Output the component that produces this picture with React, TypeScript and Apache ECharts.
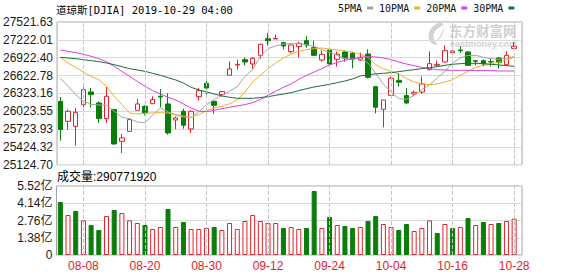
import React, { useEffect, useRef } from 'react';
import * as echarts from 'echarts';

const dates = [
  '08-05','08-06','08-07','08-08','08-09','08-12','08-13','08-14','08-15','08-16',
  '08-19','08-20','08-21','08-22','08-23','08-26','08-27','08-28','08-29','08-30',
  '09-03','09-04','09-05','09-06','09-09','09-10','09-11','09-12','09-13','09-16',
  '09-17','09-18','09-19','09-20','09-23','09-24','09-25','09-26','09-27','09-30',
  '10-01','10-02','10-03','10-04','10-07','10-08','10-09','10-10','10-11','10-14',
  '10-15','10-16','10-17','10-18','10-21','10-22','10-23','10-24','10-25','10-28',
];

const openP = [
  26189,25854,25770,26134,26346,26162,25899,26050,25518,25686,
  26038,26106,26150,26275,26145,25876,26022,25725,26268,26492,
  26190,26302,26626,26800,26889,26816,26962,27242,27236,27175,
  27024,27108,27208,27091,26884,27052,26895,27018,26996,26884,
  26984,26436,26055,26290,26542,26285,26313,26346,26721,26794,
  26850,27007,27052,27018,26872,26872,26856,26917,26805,27074,
];
const closeP = [
  25714,26022,26005,26385,26302,25899,26274,25473,25574,25882,
  26145,25994,26218,26262,25658,25910,25787,26022,26369,26413,
  26122,26352,26733,26811,26850,26912,27147,27208,27247,27119,
  27136,27163,27136,26962,26979,26816,26979,26912,26895,26928,
  26593,26089,26212,26576,26509,26162,26341,26481,26822,26811,
  27040,27035,27040,26794,26861,26816,26850,26844,26962,27113,
];
const lowP = [
  25529,25714,25445,26050,26089,25826,25826,25462,25322,25675,
  26033,25955,26150,26089,25630,25719,25730,25658,26201,26302,
  25982,26268,26626,26721,26794,26738,26906,27124,27236,27063,
  26996,26928,27091,26951,26856,26800,26772,26856,26744,26872,
  26576,25988,25753,26279,26441,26145,26274,26313,26710,26772,
  26839,26984,27001,26790,26794,26777,26772,26738,26789,27070,
];
const highP = [
  26262,26050,26078,26425,26413,26190,26430,26055,25641,25910,
  26229,26122,26274,26397,26324,25932,26066,26038,26413,26537,
  26195,26363,26861,26889,26928,26934,27158,27337,27309,27191,
  27140,27191,27287,27208,27040,27080,27024,27040,27024,27007,
  27063,26440,26215,26604,26665,26413,26369,26609,27029,26872,
  27130,27057,27113,27029,26875,26895,26906,26934,27029,27186,
];

const ma5 = [
  26576,26441,26302,26190,26139,26128,26122,26022,25921,25899,
  25843,25826,25955,26078,26010,25966,25943,25921,26010,26134,
  26218,26290,26358,26436,26609,26721,26945,27074,27119,27152,
  27158,27158,27141,27113,27057,27012,26962,26906,26895,26912,
  26833,26660,26481,26346,26234,26223,26290,26385,26469,26581,
  26693,26833,26917,26962,26962,26928,26906,26895,26917,26940,
];
const ma10 = [
  26928,26833,26760,26677,26609,26553,26441,26274,26134,25994,
  25977,25988,25994,25999,25994,25955,25927,25921,25966,26033,
  26078,26106,26150,26212,26346,26514,26626,26738,26833,26917,
  26984,27029,27057,27074,27085,27068,27052,27035,27012,26984,
  26928,26805,26738,26693,26649,26570,26514,26481,26469,26481,
  26514,26553,26626,26693,26760,26794,26816,26850,26884,26928,
];
const ma20 = [
  27052,27029,27007,26979,26945,26906,26856,26777,26693,26609,
  26525,26441,26369,26313,26257,26212,26145,26078,26022,26016,
  26038,26066,26089,26111,26134,26167,26218,26290,26358,26425,
  26481,26559,26626,26682,26738,26800,26844,26878,26906,26928,
  26940,26934,26917,26889,26850,26816,26788,26760,26738,26721,
  26716,26710,26710,26710,26705,26705,26705,26699,26699,26699,
];
const ma30 = [
  26928,26917,26906,26889,26872,26856,26833,26805,26772,26738,
  26716,26693,26660,26626,26587,26548,26497,26425,26380,26346,
  26313,26279,26257,26240,26240,26240,26251,26268,26290,26313,
  26335,26369,26402,26430,26453,26475,26503,26531,26565,26615,
  26637,26649,26660,26671,26688,26705,26721,26738,26755,26772,
  26794,26811,26822,26828,26828,26822,26811,26800,26788,26777,
];

// volume in 亿 (1e8 shares)
const volumes = [
  4.24,3.20,3.52,2.77,2.40,2.00,3.12,3.60,3.36,2.77,
  2.56,2.40,2.08,2.24,3.68,2.24,2.64,2.08,2.08,2.16,
  2.24,2.00,2.56,2.08,2.72,3.20,2.72,2.56,2.56,2.16,
  2.24,2.08,2.16,5.12,2.16,3.04,2.40,2.32,2.16,2.24,
  2.72,3.12,2.48,2.24,2.00,2.48,1.92,2.16,2.77,1.76,
  2.48,2.16,2.24,2.96,2.40,2.64,2.48,2.56,2.72,2.9077,
];
const lastVolume = 290771920;

const priceTicks = ['25124.70','25424.32','25723.93','26023.55','26323.16','26622.78','26922.40','27222.01','27521.63'];
const PRICE_MIN = 25124.70;
const PRICE_MAX = 27521.63;
const volTicks = ['0','1.38亿','2.76亿','4.14亿','5.52亿'];
const VOL_MAX = 5.52;
const xLabelDates = ['08-08','08-20','08-30','09-12','09-24','10-04','10-16','10-28'];

const RED = '#e0232b';
const GREEN = '#0a7d0a';
const SANS = '"Liberation Sans", Arial, "Noto Sans CJK SC", sans-serif';
const MONO = '"DejaVu Sans Mono", "Noto Sans CJK SC", monospace';

const LOGO_D = 'M13 0 C5 3 0 10 2 17 C3 21 7 23 11 23 C6 19 5 12 9 8 C11 6 14 4 17 3 Z M17 4 C16 10 13 15 8 20 C14 17 17 11 17 4 Z';

export default function App() {
  const ref = useRef<HTMLDivElement>(null);
  useEffect(() => {
    echarts.graphic.registerShape('logo', echarts.graphic.extendPath(LOGO_D, {}) as any);
    const chart = echarts.init(ref.current!, null, { renderer: 'svg' });

    const candleData = dates.map((_, i) => [openP[i], closeP[i], lowP[i], highP[i]]);
    const volData = volumes.map((v, i) => {
      const up = i === 0 ? closeP[0] >= openP[0] : closeP[i] >= closeP[i - 1];
      return {
        value: v,
        itemStyle: up
          ? { color: '#ffffff', borderColor: RED, borderWidth: 1 }
          : { color: GREEN, borderColor: GREEN, borderWidth: 1 },
      };
    });

    const dashed = {
      silent: true,
      symbol: ['none', 'none'],
      label: { show: false },
      lineStyle: { color: '#c4c4c4', type: 'dashed', width: 1 },
      data: xLabelDates.map((d) => ({ xAxis: d })),
    };

    const maLine = (name: string, data: number[], color: string) => ({
      name,
      type: 'line',
      xAxisIndex: 0,
      yAxisIndex: 0,
      data,
      symbol: 'none',
      lineStyle: { width: 1, color },
      itemStyle: { color },
      z: 3,
    });

    const option: any = {
      animation: false,
      backgroundColor: '#ffffff',
      legend: {
        data: ['5PMA', '10PMA', '20PMA', '30PMA'],
        left: 338,
        top: 3,
        padding: 0,
        align: 'right',
        icon: 'rect',
        itemWidth: 6,
        itemHeight: 3,
        itemGap: 6,
        selectedMode: false,
        textStyle: { fontFamily: MONO, fontSize: 10, color: '#111', padding: [0, 0, 0, 0] },
      },
      grid: [
        { left: 56.5, top: 22, width: 461.5, height: 142.7 },
        { left: 56.5, top: 186, width: 461.5, height: 69 },
        { left: 56.5, top: 22, width: 465.5, height: 142.7, show: true, borderColor: '#a3a3a3', borderWidth: 1, backgroundColor: 'transparent' },
        { left: 56.5, top: 186, width: 465.5, height: 69, show: true, borderColor: '#a3a3a3', borderWidth: 1, backgroundColor: 'transparent' },
      ],
      xAxis: [
        {
          type: 'category', gridIndex: 0, data: dates, boundaryGap: true,
          axisLine: { show: false }, axisTick: { show: false }, axisLabel: { show: false }, splitLine: { show: false },
        },
        {
          type: 'category', gridIndex: 1, data: dates, boundaryGap: true,
          axisLine: { show: false }, axisTick: { show: false }, splitLine: { show: false },
          axisLabel: {
            interval: (_idx: number, val: string) => xLabelDates.includes(val),
            color: RED, fontSize: 12, fontFamily: SANS, margin: 5,
          },
        },
        { type: 'value', gridIndex: 2, min: 0, max: 1, show: false },
        { type: 'value', gridIndex: 3, min: 0, max: 1, show: false },
      ],
      yAxis: [
        { type: 'value', gridIndex: 0, min: PRICE_MIN, max: PRICE_MAX, show: false, splitLine: { show: false } },
        { type: 'value', gridIndex: 1, min: 0, max: VOL_MAX, show: false, splitLine: { show: false } },
        {
          type: 'value', gridIndex: 2, min: 0, max: priceTicks.length - 1, interval: 1,
          axisLine: { show: false }, axisTick: { show: false },
          splitLine: { lineStyle: { color: '#dadada', width: 1 } },
          axisLabel: { formatter: (v: number) => priceTicks[v], color: '#1a1a1a', fontSize: 12, fontFamily: SANS, margin: 4 },
        },
        {
          type: 'value', gridIndex: 3, min: 0, max: volTicks.length - 1, interval: 1,
          axisLine: { show: false }, axisTick: { show: false },
          splitLine: { lineStyle: { color: '#dadada', width: 1 } },
          axisLabel: { formatter: (v: number) => volTicks[v], color: '#1a1a1a', fontSize: 12, fontFamily: SANS, margin: 4 },
        },
      ],
      graphic: [
        {
          type: 'text', x: 56, y: 10, z: 10,
          style: { text: '道琼斯[DJIA] 2019-10-29 04:00', fontFamily: MONO, fontSize: 10.5, fill: '#000', verticalAlign: 'middle' },
        },
        {
          type: 'text', x: 57, y: 177, z: 10,
          style: { text: '成交量:' + String(lastVolume), fontFamily: SANS, fontSize: 12, fill: '#000', verticalAlign: 'middle' },
        },
        {
          type: 'logo', x: 427, y: 22, scaleX: 1, scaleY: 1, z: 0,
          style: { fill: '#d2d2d2' },
        },
        {
          type: 'text', x: 449, y: 30, z: 0,
          style: { text: '东方财富网', fontFamily: '"Noto Sans CJK SC"', fontSize: 13.5, fontWeight: 'bold', fill: '#d0d0d0', verticalAlign: 'middle' },
        },
        {
          type: 'text', x: 450, y: 43.5, z: 0,
          style: { text: 'eastmoney.com', fontFamily: SANS, fontSize: 9, fontWeight: 'bold', fill: '#d0d0d0', verticalAlign: 'middle' },
        },
      ],
      series: [
        {
          name: 'K',
          type: 'candlestick',
          xAxisIndex: 0,
          yAxisIndex: 0,
          data: candleData,
          barWidth: 5,
          itemStyle: { color: '#ffffff', color0: GREEN, borderColor: RED, borderColor0: GREEN, borderWidth: 1 },
          markLine: dashed,
          z: 2,
        },
        maLine('5PMA', ma5, '#a3a3a3'),
        maLine('10PMA', ma10, '#f0ae2a'),
        maLine('20PMA', ma20, '#e03ce0'),
        maLine('30PMA', ma30, '#1e6b3c'),
        {
          name: 'VOL',
          type: 'bar',
          xAxisIndex: 1,
          yAxisIndex: 1,
          data: volData,
          barWidth: 5,
          markLine: dashed,
          z: 2,
        },
      ],
    };
    chart.setOption(option);
    return () => chart.dispose();
  }, []);
  return <div ref={ref} style={{ position: 'absolute', left: 0, top: 0, width: 578, height: 276 }} />;
}
